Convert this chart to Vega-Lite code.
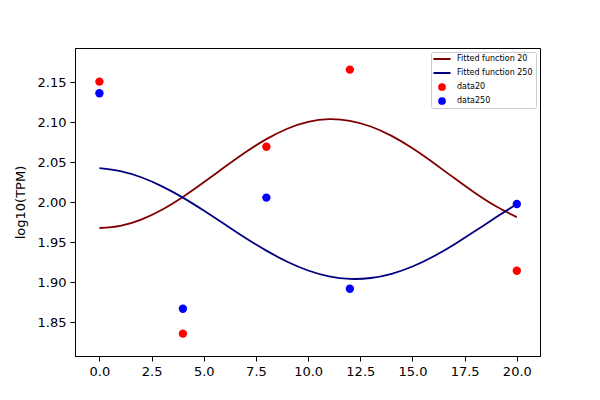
{
  "$schema": "https://vega.github.io/schema/vega-lite/v6.json",
  "width": 465,
  "height": 308,
  "autosize": {"type": "none"},
  "padding": {"left": 75, "top": 48, "right": 60, "bottom": 44},
  "background": "white",
  "datasets": {
    "curves": [
      {"t": 0, "value": 1.968, "series": "Fitted function 20"},
      {"t": 1, "value": 1.9707, "series": "Fitted function 20"},
      {"t": 2, "value": 1.9785, "series": "Fitted function 20"},
      {"t": 3, "value": 1.9909, "series": "Fitted function 20"},
      {"t": 4, "value": 2.0068, "series": "Fitted function 20"},
      {"t": 5, "value": 2.0251, "series": "Fitted function 20"},
      {"t": 6, "value": 2.0442, "series": "Fitted function 20"},
      {"t": 7, "value": 2.0627, "series": "Fitted function 20"},
      {"t": 8, "value": 2.0791, "series": "Fitted function 20"},
      {"t": 9, "value": 2.0921, "series": "Fitted function 20"},
      {"t": 10, "value": 2.1006, "series": "Fitted function 20"},
      {"t": 11, "value": 2.104, "series": "Fitted function 20"},
      {"t": 12, "value": 2.102, "series": "Fitted function 20"},
      {"t": 13, "value": 2.0949, "series": "Fitted function 20"},
      {"t": 14, "value": 2.0831, "series": "Fitted function 20"},
      {"t": 15, "value": 2.0676, "series": "Fitted function 20"},
      {"t": 16, "value": 2.0495, "series": "Fitted function 20"},
      {"t": 17, "value": 2.0304, "series": "Fitted function 20"},
      {"t": 18, "value": 2.0117, "series": "Fitted function 20"},
      {"t": 19, "value": 1.9951, "series": "Fitted function 20"},
      {"t": 20, "value": 1.9816, "series": "Fitted function 20"},
      {"t": 0, "value": 2.0428, "series": "Fitted function 250"},
      {"t": 1, "value": 2.0391, "series": "Fitted function 250"},
      {"t": 2, "value": 2.0314, "series": "Fitted function 250"},
      {"t": 3, "value": 2.0201, "series": "Fitted function 250"},
      {"t": 4, "value": 2.006, "series": "Fitted function 250"},
      {"t": 5, "value": 1.9898, "series": "Fitted function 250"},
      {"t": 6, "value": 1.9727, "series": "Fitted function 250"},
      {"t": 7, "value": 1.9556, "series": "Fitted function 250"},
      {"t": 8, "value": 1.9397, "series": "Fitted function 250"},
      {"t": 9, "value": 1.9258, "series": "Fitted function 250"},
      {"t": 10, "value": 1.9149, "series": "Fitted function 250"},
      {"t": 11, "value": 1.9076, "series": "Fitted function 250"},
      {"t": 12, "value": 1.9044, "series": "Fitted function 250"},
      {"t": 13, "value": 1.9055, "series": "Fitted function 250"},
      {"t": 14, "value": 1.9108, "series": "Fitted function 250"},
      {"t": 15, "value": 1.9199, "series": "Fitted function 250"},
      {"t": 16, "value": 1.9324, "series": "Fitted function 250"},
      {"t": 17, "value": 1.9475, "series": "Fitted function 250"},
      {"t": 18, "value": 1.9641, "series": "Fitted function 250"},
      {"t": 19, "value": 1.9813, "series": "Fitted function 250"},
      {"t": 20, "value": 1.9981, "series": "Fitted function 250"}
    ],
    "points": [
      {"t": 0, "value": 2.151, "series": "data20"},
      {"t": 4, "value": 1.836, "series": "data20"},
      {"t": 8, "value": 2.0696, "series": "data20"},
      {"t": 12, "value": 2.166, "series": "data20"},
      {"t": 20, "value": 1.9146, "series": "data20"},
      {"t": 0, "value": 2.1364, "series": "data250"},
      {"t": 4, "value": 1.867, "series": "data250"},
      {"t": 8, "value": 2.006, "series": "data250"},
      {"t": 12, "value": 1.892, "series": "data250"},
      {"t": 20, "value": 1.998, "series": "data250"}
    ]
  },
  "layer": [
    {
      "data": {"name": "curves"},
      "mark": {"type": "line", "strokeWidth": 1.8, "interpolate": "natural"},
      "encoding": {
        "x": {"field": "t", "type": "quantitative"},
        "y": {"field": "value", "type": "quantitative"},
        "color": {"field": "series", "type": "nominal"}
      }
    },
    {
      "data": {"name": "points"},
      "mark": {"type": "point", "filled": true, "opacity": 1, "size": 70, "shape": "circle"},
      "encoding": {
        "x": {"field": "t", "type": "quantitative"},
        "y": {"field": "value", "type": "quantitative"},
        "color": {"field": "series", "type": "nominal"}
      }
    }
  ],
  "encoding": {
    "x": {
      "field": "t",
      "type": "quantitative",
      "title": null,
      "scale": {"domain": [-1.17, 21.11], "nice": false, "zero": false},
      "axis": {"values": [0, 2.5, 5, 7.5, 10, 12.5, 15, 17.5, 20], "format": ".1f"}
    },
    "y": {
      "field": "value",
      "type": "quantitative",
      "title": "log10(TPM)",
      "scale": {"domain": [1.808, 2.193], "nice": false, "zero": false},
      "axis": {"values": [1.85, 1.9, 1.95, 2.0, 2.05, 2.1, 2.15], "format": ".2f", "titlePadding": 10}
    },
    "color": {
      "field": "series",
      "type": "nominal",
      "scale": {
        "domain": ["Fitted function 20", "Fitted function 250", "data20", "data250"],
        "range": ["#800000", "#000080", "#ff0000", "#0000ff"]
      },
      "legend": {
        "title": null,
        "orient": "top-right",
        "offset": 4,
        "padding": 3,
        "strokeColor": "#cccccc",
        "fillColor": "white",
        "cornerRadius": 2,
        "labelFontSize": 8,
        "labelFont": "DejaVu Sans",
        "labelColor": "black",
        "labelOffset": 11,
        "symbolOffset": 4,
        "rowPadding": 6,
        "symbolSize": 60,
        "symbolStrokeWidth": 2,
        "encode": {
          "symbols": {
            "update": {
              "shape": {"signal": "datum.value == 'data20' || datum.value == 'data250' ? 'circle' : 'M-2.2,0H2.2'"},
              "size": {"value": 60},
              "fill": {"signal": "datum.value == 'data20' ? '#ff0000' : datum.value == 'data250' ? '#0000ff' : 'transparent'"},
              "stroke": {"signal": "datum.value == 'Fitted function 20' ? '#800000' : datum.value == 'Fitted function 250' ? '#000080' : 'transparent'"},
              "strokeWidth": {"signal": "datum.value == 'data20' || datum.value == 'data250' ? 0 : 2"},
              "opacity": {"value": 1}
            }
          }
        }
      }
    }
  },
  "config": {
    "font": "DejaVu Sans",
    "view": {"stroke": "black", "strokeWidth": 1},
    "axis": {
      "grid": false,
      "domainColor": "black",
      "tickColor": "black",
      "labelColor": "black",
      "titleColor": "black",
      "labelFont": "DejaVu Sans",
      "titleFont": "DejaVu Sans",
      "labelFontSize": 13,
      "titleFontSize": 13,
      "titleFontWeight": "normal",
      "tickSize": 5,
      "labelPadding": 4
    }
  }
}
